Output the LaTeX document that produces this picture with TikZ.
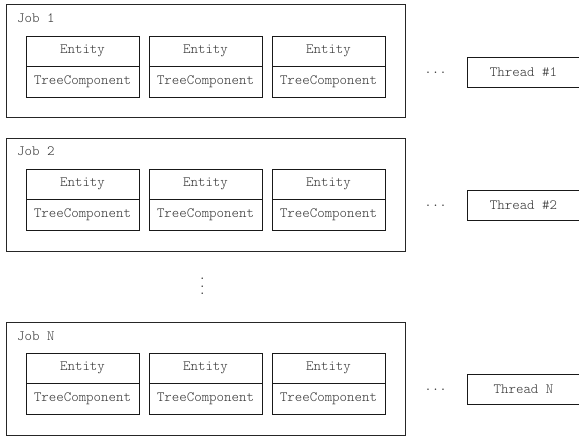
\documentclass[tikz,border=0pt]{standalone}
\usepackage{fontspec}
\setmonofont{Latin Modern Mono Light}
\usetikzlibrary{positioning}

\begin{document}
\begin{tikzpicture}[x=1pt, y=-1pt,
    job/.style={rectangle, draw=black!85, line width=1pt, minimum width=399pt, minimum height=113pt,
                inner sep=0pt, outer sep=0pt},
    joblabel/.style={anchor=base west, inner sep=0pt, text=black!80,
                     font=\ttfamily\fontsize{14.2}{16}\selectfont},
    cell/.style={rectangle, draw=black!90, line width=0.9pt, minimum width=113pt, minimum height=30.5pt,
                 inner sep=0pt, outer sep=0pt, text=black!80,
                 font=\ttfamily\fontsize{14.2}{16}\selectfont},
    more/.style={inner sep=0pt, text=black!80, font=\ttfamily\fontsize{14.2}{16}\selectfont}
]
    \useasboundingbox (0,0) rectangle (579,436);
    \clip (0,0) rectangle (579,436);

    % job 1
    \node[job] (job1) at (205.5,61.5) {};
    \node[joblabel] (lbl1) at ([xshift=11pt,yshift=-18pt]job1.north west) {Job 1};
    \node[cell, below right=31pt and 20pt of job1.north west, anchor=north west] (ent11) {Entity};
    \node[cell, right=10pt of ent11] (ent12) {Entity};
    \node[cell, right=10pt of ent12] (ent13) {Entity};
    \node[cell, below=0pt of ent11] (tree11) {TreeComponent};
    \node[cell, below=0pt of ent12] (tree12) {TreeComponent};
    \node[cell, below=0pt of ent13] (tree13) {TreeComponent};
    \node[cell] (thread1) at (523.5,72.5) {Thread \#1};
    \node[more, left=20pt of thread1] (more1) {...};

    % job 2
    \node[job] (job2) at (205.5,194.5) {};
    \node[joblabel] (lbl2) at ([xshift=11pt,yshift=-18pt]job2.north west) {Job 2};
    \node[cell, below right=31pt and 20pt of job2.north west, anchor=north west] (ent21) {Entity};
    \node[cell, right=10pt of ent21] (ent22) {Entity};
    \node[cell, right=10pt of ent22] (ent23) {Entity};
    \node[cell, below=0pt of ent21] (tree21) {TreeComponent};
    \node[cell, below=0pt of ent22] (tree22) {TreeComponent};
    \node[cell, below=0pt of ent23] (tree23) {TreeComponent};
    \node[cell] (thread2) at (523.5,205.5) {Thread \#2};
    \node[more, left=20pt of thread2] (more2) {...};

    % vertical dots
    \node[more] (vdots) at (202.3,286.5) {\vbox{\baselineskip=7.5pt\hbox{.}\hbox{.}\hbox{.}}};

    % job N
    \node[job] (jobN) at (205.5,378.5) {};
    \node[joblabel] (lblN) at ([xshift=11pt,yshift=-18pt]jobN.north west) {Job N};
    \node[cell, below right=31pt and 20pt of jobN.north west, anchor=north west] (entN1) {Entity};
    \node[cell, right=10pt of entN1] (entN2) {Entity};
    \node[cell, right=10pt of entN2] (entN3) {Entity};
    \node[cell, below=0pt of entN1] (treeN1) {TreeComponent};
    \node[cell, below=0pt of entN2] (treeN2) {TreeComponent};
    \node[cell, below=0pt of entN3] (treeN3) {TreeComponent};
    \node[cell] (threadN) at (523.5,389.5) {Thread N};
    \node[more, left=20pt of threadN] (moreN) {...};
\end{tikzpicture}
\end{document}
